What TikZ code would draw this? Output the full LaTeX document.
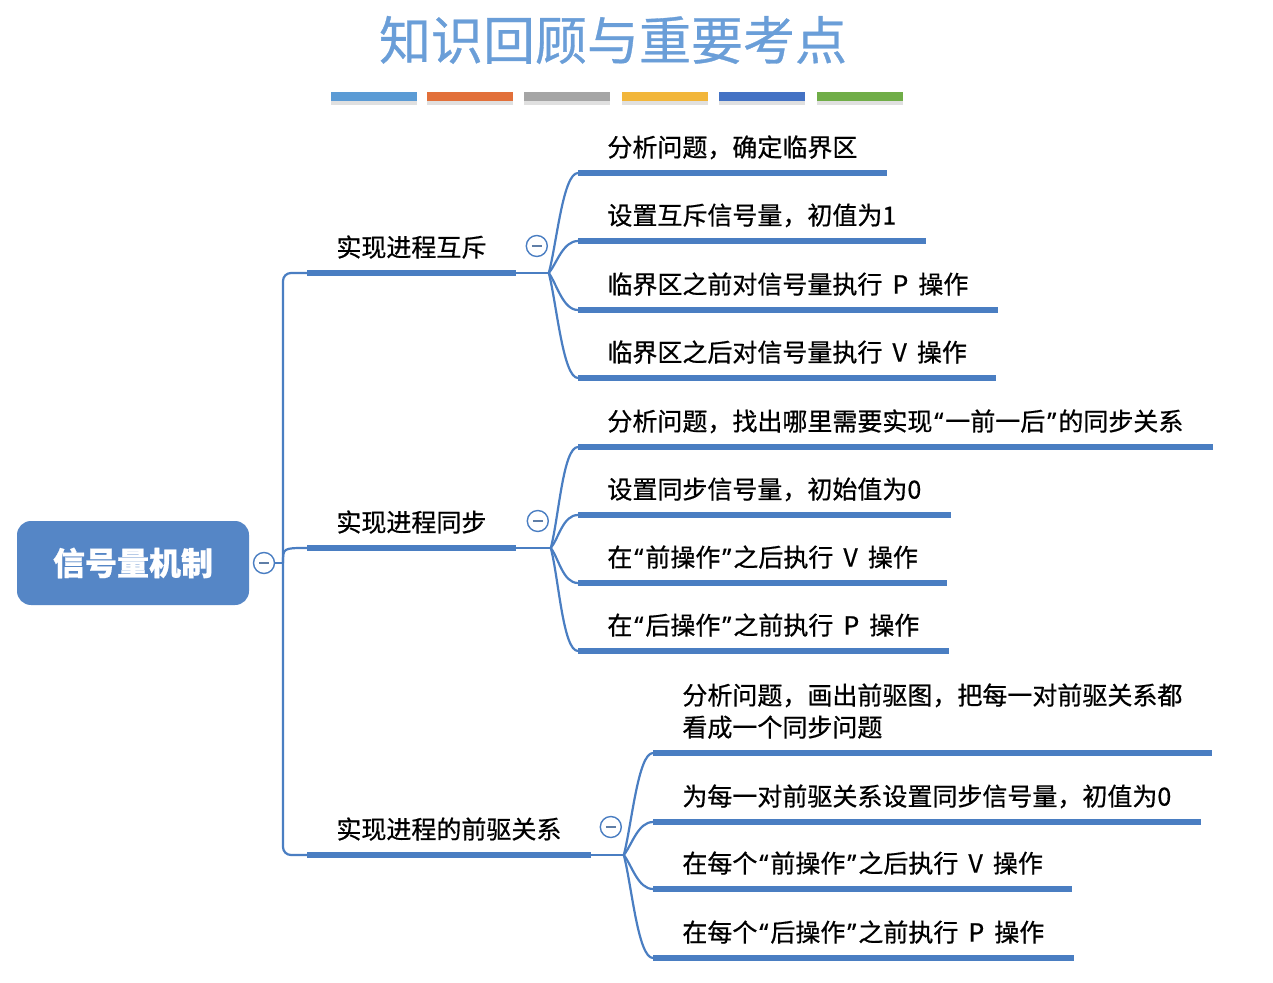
\documentclass[tikz,border=0pt]{standalone}
\usepackage{fontspec}
\setmainfont{Noto Sans CJK SC}[FakeBold=0.6, WordSpace=1.8]
\newfontfamily\quotefont{Noto Sans}[FakeBold=0.6]
\newcommand\quoted[1]{{\kern1pt\quotefont“\kern1pt}#1{\kern1pt\quotefont”\kern1pt}}
\usetikzlibrary{calc,shadows}
\definecolor{mindblue}{HTML}{4A7EC2}
\definecolor{rootblue}{HTML}{5586C6}
\definecolor{titleblue}{HTML}{6A9ED8}
\definecolor{barblue}{HTML}{5B9BD5}
\definecolor{barorange}{HTML}{E2703A}
\definecolor{bargray}{HTML}{A5A5A5}
\definecolor{bargold}{HTML}{F2B63A}
\definecolor{bardark}{HTML}{4472C4}
\definecolor{bargreen}{HTML}{70AD47}

\begin{document}
\begin{tikzpicture}[
    x=0.5pt, y=-0.5pt,
    % --- Node styles ---
    topic/.style={
      anchor=south west, inner xsep=14.5pt, inner ysep=0pt,
      text depth=8pt, align=left,
      font=\fontsize{12.5}{16}\selectfont,
    },
    rootbox/.style={
      rectangle, rounded corners=7pt, fill=rootblue, text=white,
      minimum width=116pt, minimum height=42pt,
      font=\fontsize{16}{18}\selectfont\bfseries,
    },
    fold/.style={
      circle, draw=mindblue, fill=white, line width=0.7pt,
      minimum size=10.5pt, inner sep=0pt,
      path picture={\draw[mindblue!60!gray, line width=0.9pt]
        ([xshift=-2.5pt]path picture bounding box.center) --
        ([xshift=2.5pt]path picture bounding box.center);},
    },
    bar/.style={
      rectangle, minimum width=43pt, minimum height=4.5pt, inner sep=0pt,
      drop shadow={shadow xshift=0pt, shadow yshift=-2pt, fill=black!30, opacity=0.4},
    },
    % --- Line styles ---
    twig/.style={draw=mindblue, line width=1.1pt},
    uline/.style={draw=mindblue, line width=3pt},
  ]

    \path[use as bounding box, fill=white] (0,0) rectangle (1273,983);

    % ===================== TITLE =====================
    \node[font=\fontsize{26}{28}\selectfont, text=titleblue] (title) at (613,40) {知识回顾与重要考点};
    \node[bar, fill=barblue]   (bar1) at (374,97) {};
    \node[bar, fill=barorange] (bar2) at (470,97) {};
    \node[bar, fill=bargray]   (bar3) at (567,97) {};
    \node[bar, fill=bargold]   (bar4) at (665,97) {};
    \node[bar, fill=bardark]   (bar5) at (762,97) {};
    \node[bar, fill=bargreen]  (bar6) at (860,97) {};

    % ===================== ROOT =====================
    \node[rootbox] (root) at (133,563) {信号量机制};
    \node[fold] (rootbtn) at (264,563) {};
    \coordinate (hub) at (283,563);

    % ===================== BRANCHES =====================
    \node[topic] (b1) at (307,273) {实现进程互斥};
    \node[topic] (b2) at (307,548) {实现进程同步};
    \node[topic] (b3) at (307,855) {实现进程的前驱关系};

    \coordinate (f1) at ($(b1.south east)+(33,0)$);
    \coordinate (f2) at ($(b2.south east)+(35,0)$);
    \coordinate (f3) at ($(b3.south east)+(33,0)$);

    % ===================== LEAVES =====================
    \node[topic] (l11) at (578,173) {分析问题，确定临界区};
    \node[topic] (l12) at (578,241) {设置互斥信号量，初值为1};
    \node[topic] (l13) at (578,310) {临界区之前对信号量执行 P 操作};
    \node[topic] (l14) at (578,378) {临界区之后对信号量执行 V 操作};

    \node[topic] (l21) at (578,447) {分析问题，找出哪里需要实现\quoted{一前一后}的同步关系};
    \node[topic] (l22) at (578,515) {设置同步信号量，初始值为0};
    \node[topic] (l23) at (578,583) {在\quoted{前操作}之后执行 V 操作};
    \node[topic] (l24) at (578,651) {在\quoted{后操作}之前执行 P 操作};

    \node[topic] (l31) at (653,753) {分析问题，画出前驱图，把每一对前驱关系都\\看成一个同步问题};
    \node[topic] (l32) at (653,822) {为每一对前驱关系设置同步信号量，初值为0};
    \node[topic] (l33) at (653,889) {在每个\quoted{前操作}之后执行 V 操作};
    \node[topic] (l34) at (653,958) {在每个\quoted{后操作}之前执行 P 操作};

    % ===================== CONNECTORS =====================
    \draw[twig] (rootbtn.east) -- (hub);
    \draw[twig, rounded corners=4pt] (b1.south west) -| (hub) |- (b3.south west);
    \draw[twig] (hub) .. controls (hub |- b2.south west) .. (b2.south west);

    \foreach \b/\f in {b1/f1, b2/f2, b3/f3} {
      \draw[uline] (\b.south west) -- (\b.south east);
      \draw[twig] (\b.south east) -- (\f);
    }

    \foreach \f/\leaf in {f1/l11, f1/l12, f1/l13, f1/l14,
                          f2/l21, f2/l22, f2/l23, f2/l24,
                          f3/l31, f3/l32, f3/l33, f3/l34} {
      \draw[twig] (\f)
        .. controls ($(\f)!0.3!(\f |- \leaf.south west)+(8,0)$)
        and ($(\leaf.south west)+(-15,0)$) .. (\leaf.south west);
      \draw[uline] (\leaf.south west) -- (\leaf.south east);
    }

    % fold buttons sit above the fan points
    \node[fold] (fold1) at ($(f1)+(-12,-27)$) {};
    \node[fold] (fold2) at ($(f2)+(-13,-27)$) {};
    \node[fold] (fold3) at ($(f3)+(-13,-28)$) {};

  \end{tikzpicture}
\end{document}
